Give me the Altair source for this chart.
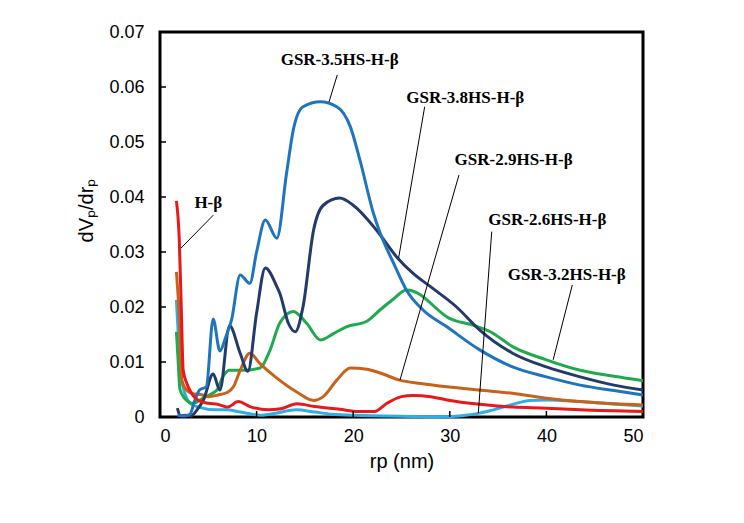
import pandas as pd
import altair as alt

# pore size distribution curves
hb_x = [1.7, 2.0, 2.2, 2.4, 2.8, 3.3, 4.0, 5.0, 6.0, 7.0, 8.1, 9.3, 11.2, 12.5, 14.2, 16.0,
        18.6, 20.5, 22.2, 23.5, 25.0, 26.2, 28.0, 29.7, 33.1, 36.5, 40.0, 43.5, 50.0]
hb_y = [0.0393, 0.032, 0.020, 0.0085, 0.0060, 0.0042, 0.0030, 0.0025, 0.0023, 0.0018, 0.0028,
        0.0019, 0.0013, 0.0015, 0.0024, 0.0019, 0.0014, 0.0010, 0.0010, 0.0025, 0.0037,
        0.0039, 0.0037, 0.0031, 0.0023, 0.0018, 0.0016, 0.0013, 0.0010]

s26_x = [1.7, 2.0, 2.3, 3.1, 4.0, 5.8, 7.0, 8.0, 9.0, 10.4, 12.0, 14.1, 16.0, 17.8, 20.0,
         23.4, 26.0, 28.9, 31.0, 33.1, 34.5, 36.5, 38.3, 40.0, 43.5, 46.5, 50.0]
s26_y = [0.0213, 0.012, 0.0062, 0.0025, 0.0018, 0.0013, 0.0013, 0.0010, 0.0007, 0.0003,
         0.0007, 0.0013, 0.0009, 0.0005, 0.0003, 0.0002, 0.0001, 0.0, 0.0002, 0.0007,
         0.0013, 0.0023, 0.0030, 0.0031, 0.0028, 0.0024, 0.0020]

s29_x = [1.7, 2.0, 2.25, 2.7, 3.3, 4.4, 5.0, 6.0, 7.0, 7.6, 8.3, 9.3, 10.3, 12.0, 14.2, 15.9,
         16.9, 18.3, 19.7, 21.4, 22.8, 24.8, 27.0, 29.7, 33.0, 36.5, 40.0, 43.5, 47.0, 50.0]
s29_y = [0.0264, 0.018, 0.0067, 0.0050, 0.0043, 0.0040, 0.0037, 0.0040, 0.0045, 0.0055,
         0.0085, 0.0116, 0.0098, 0.0072, 0.0045, 0.0030, 0.0037, 0.0067, 0.0089, 0.0087,
         0.0080, 0.0067, 0.0061, 0.0055, 0.0049, 0.0043, 0.0034, 0.0028, 0.0024, 0.0022]

s32_x = [1.7, 1.85, 2.07, 2.5, 3.4, 4.7, 5.9, 6.5, 7.2, 8.6, 10.35, 11.4, 12.4, 13.8, 15.2,
         16.6, 18.0, 19.3, 21.4, 22.8, 24.2, 25.5, 27.0, 28.0, 29.7, 32.4, 34.2, 36.5, 40.0,
         43.5, 47.0, 50.0]
s32_y = [0.0155, 0.011, 0.0050, 0.0035, 0.0025, 0.0037, 0.0049, 0.0073, 0.0085, 0.0085,
         0.0089, 0.0122, 0.0171, 0.0192, 0.0170, 0.0140, 0.0152, 0.0164, 0.0174, 0.0195,
         0.0215, 0.0231, 0.0222, 0.0207, 0.0182, 0.0167, 0.0155, 0.0128, 0.0104, 0.0085,
         0.0074, 0.0066]

s35_x = [1.8, 2.5, 3.1, 3.6, 4.1, 4.8, 5.5, 6.2, 6.8, 7.4, 8.3, 9.3, 10.0, 10.9, 12.1, 13.1,
         13.8, 14.8, 16.6, 18.3, 19.7, 20.7, 22.1, 22.8, 24.2, 25.5, 27.2, 29.7, 33.1, 36.5,
         40.0, 43.5, 47.0, 50.0]
s35_y = [0.0003, 0.0002, 0.0005, 0.0030, 0.0049, 0.0055, 0.0178, 0.0120, 0.0145, 0.0176,
         0.0258, 0.0243, 0.0300, 0.0358, 0.0325, 0.0443, 0.0522, 0.0564, 0.0573, 0.0564,
         0.0528, 0.0467, 0.0370, 0.0334, 0.0279, 0.0231, 0.0195, 0.0164, 0.0122, 0.0091,
         0.0073, 0.0058, 0.0048, 0.0040]

s38_x = [1.8, 2.1, 2.6, 3.2, 3.8, 4.5, 5.5, 6.2, 7.2, 8.3, 9.1, 10.0, 10.9, 12.1, 12.4, 13.3,
         14.0, 14.8, 15.9, 16.9, 18.6, 20.0, 22.4, 24.5, 26.2, 28.0, 30.7, 33.1, 36.5, 40.0,
         43.5, 47.0, 50.0]
s38_y = [0.0016, 0.0002, 0.0003, 0.0002, 0.0012, 0.0031, 0.0078, 0.0049, 0.0166, 0.0116,
         0.0083, 0.0189, 0.0271, 0.0237, 0.0225, 0.0170, 0.0155, 0.0200, 0.0340, 0.0385,
         0.0398, 0.0385, 0.0340, 0.0291, 0.0261, 0.0237, 0.0200, 0.0158, 0.0116, 0.0091,
         0.0073, 0.0058, 0.0049]

series_names = ["GSR-2.6HS-H-β", "GSR-3.2HS-H-β", "GSR-2.9HS-H-β",
                "GSR-3.8HS-H-β", "GSR-3.5HS-H-β", "H-β"]
series_colors = ["#2eaee6", "#1faa4e", "#c8621a", "#233a6a", "#1f74bd", "#e8191c"]
series_xy = [(s26_x, s26_y), (s32_x, s32_y), (s29_x, s29_y),
             (s38_x, s38_y), (s35_x, s35_y), (hb_x, hb_y)]

# annotation labels and their leader lines (data units)
label_text = ["GSR-3.5HS-H-β", "GSR-3.8HS-H-β", "GSR-2.9HS-H-β",
              "GSR-2.6HS-H-β", "GSR-3.2HS-H-β", "H-β"]
label_x = [18.6, 31.6, 36.6, 40.1, 42.1, 5.0]
label_y = [0.0649, 0.0580, 0.0467, 0.0358, 0.0258, 0.0389]
lead_x1 = [18.35, 27.4, 30.95, 34.34, 42.68, 5.52]
lead_y1 = [0.0622, 0.0564, 0.0440, 0.0337, 0.0240, 0.0367]
lead_x2 = [17.5, 24.7, 24.84, 32.95, 40.7, 2.17]
lead_y2 = [0.0573, 0.0289, 0.0067, 0.0007, 0.0104, 0.0307]

x_ticks = [10, 20, 30, 40]
y_ticks = [0.01, 0.02, 0.03, 0.04, 0.05, 0.06]

W, H = 483, 385

rows = []
for order, (name, (xs, ys)) in enumerate(zip(series_names, series_xy)):
    for x, y in zip(xs, ys):
        rows.append({"series": name, "rp": x, "dv": y, "order": order})
curves = pd.DataFrame(rows)

labels = pd.DataFrame({"text": label_text, "x": label_x, "y": label_y})
leaders = pd.DataFrame({"x1": lead_x1, "y1": lead_y1, "x2": lead_x2, "y2": lead_y2})

x_scale = alt.Scale(domain=[0, 50], nice=False)
y_scale = alt.Scale(domain=[0, 0.07], nice=False)

x_axis = alt.Axis(values=[0, 10, 20, 30, 40, 50], ticks=False, domain=False, grid=False,
                  labelFont="Liberation Sans", labelFontSize=18, labelColor="black",
                  labelPadding=10, title="rp (nm)", titleFont="Liberation Sans",
                  titleFontSize=20, titleFontWeight="normal", titleColor="black",
                  titlePadding=6)
y_axis = alt.Axis(values=[0, 0.01, 0.02, 0.03, 0.04, 0.05, 0.06, 0.07], ticks=False,
                  domain=False, grid=False,
                  labelExpr="datum.value == 0 ? '0' : format(datum.value, '.2f')",
                  labelFont="Liberation Sans", labelFontSize=18, labelColor="black",
                  labelPadding=16, title="dVₚ/drₚ", titleFont="Liberation Sans",
                  titleFontSize=20, titleFontWeight="normal", titleColor="black",
                  titlePadding=12, titleY=178, titleAlign="center")

lines = alt.Chart(curves).mark_line(strokeWidth=3, interpolate="monotone").encode(
    x=alt.X("rp:Q", scale=x_scale, axis=x_axis),
    y=alt.Y("dv:Q", scale=y_scale, axis=y_axis),
    color=alt.Color("series:N", scale=alt.Scale(domain=series_names, range=series_colors),
                    legend=None),
    order="order:Q",
    detail="series:N",
)

# ticks point into the plot
ytick_layer = alt.Chart(pd.DataFrame({"v": y_ticks})).mark_rule(
    color="black", strokeWidth=1.5
).encode(y=alt.Y("v:Q", scale=y_scale), x=alt.value(0), x2=alt.value(6))

xtick_layer = alt.Chart(pd.DataFrame({"v": x_ticks})).mark_rule(
    color="black", strokeWidth=1.5
).encode(x=alt.X("v:Q", scale=x_scale), y=alt.value(H), y2=alt.value(H - 6))

leader_layer = alt.Chart(leaders).mark_rule(color="black", strokeWidth=1).encode(
    x=alt.X("x1:Q", scale=x_scale), y=alt.Y("y1:Q", scale=y_scale),
    x2="x2:Q", y2="y2:Q",
)

label_layer = alt.Chart(labels).mark_text(
    font="Liberation Serif", fontWeight="bold", fontSize=17, color="black",
    align="center", baseline="middle"
).encode(
    x=alt.X("x:Q", scale=x_scale), y=alt.Y("y:Q", scale=y_scale), text="text:N"
)

chart = alt.layer(lines, ytick_layer, xtick_layer, leader_layer, label_layer).properties(
    width=W, height=H,
    autosize=alt.AutoSizeParams(type="none"),
    padding={"left": 152, "top": 24, "right": 93, "bottom": 98},
).configure_view(stroke="black", strokeWidth=3)

chart.save("out.html", embed_options={"renderer": "svg", "actions": False})
